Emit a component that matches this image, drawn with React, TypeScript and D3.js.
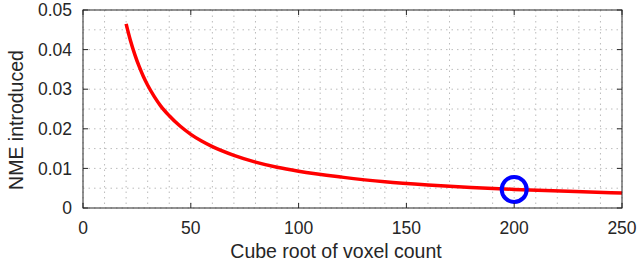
import * as d3 from "d3";

// curve
const voxelRoot = [20, 22, 24, 26, 28, 30, 33, 36, 40, 45, 50, 55, 60, 70, 80, 90, 100, 120, 140, 160, 180, 200, 225, 250];
const nme = [0.0465, 0.0423, 0.0388, 0.0358, 0.0332, 0.031, 0.0282, 0.0258, 0.0233, 0.0207, 0.0186, 0.0169, 0.0155, 0.0133, 0.0116, 0.0103, 0.0093, 0.0078, 0.0066, 0.0058, 0.0052, 0.0047, 0.0042, 0.0038];
const marker = { x: 200, y: 0.0047 };

const xTicks = [0, 50, 100, 150, 200, 250];
const yTicks = [0, 0.01, 0.02, 0.03, 0.04, 0.05];
const xGrid = d3.range(0, 251, 10);
const yGrid = d3.range(0, 0.0501, 0.005);

const width = 642;
const height = 264;
const plot = { left: 83, right: 622, top: 10, bottom: 208 };
const font = "'Liberation Sans', Arial, sans-serif";

export default function App() {
  const x = d3.scaleLinear().domain([0, 250]).range([plot.left, plot.right]);
  const y = d3.scaleLinear().domain([0, 0.05]).range([plot.bottom, plot.top]);

  const pts: [number, number][] = voxelRoot.map((v, i) => [v, nme[i]]);
  const line = d3.line<[number, number]>()
    .x((d) => x(d[0]))
    .y((d) => y(d[1]))
    .curve(d3.curveMonotoneX);

  const axisColor = "#262626";
  const tickLen = 5;

  return (
    <svg
      width={width}
      height={height}
      viewBox={`0 0 ${width} ${height}`}
      style={{ position: "absolute", left: 0, top: 0, background: "#fff" }}
    >
      {/* dotted grid */}
      <g stroke="#bcbcbc" strokeWidth={1} strokeDasharray="1.5,4">
        {xGrid.map((v) => (
          <line key={"gx" + v} x1={x(v)} x2={x(v)} y1={plot.top} y2={plot.bottom} />
        ))}
        {yGrid.map((v) => (
          <line key={"gy" + v} x1={plot.left} x2={plot.right} y1={y(v)} y2={y(v)} />
        ))}
      </g>

      {/* curve and marker */}
      <path d={line(pts) ?? ""} fill="none" stroke="#ff0000" strokeWidth={3.5} />
      <circle cx={x(marker.x)} cy={y(marker.y)} r={12.5} fill="none" stroke="#0000ff" strokeWidth={4} />

      {/* box and ticks */}
      <rect
        x={plot.left}
        y={plot.top}
        width={plot.right - plot.left}
        height={plot.bottom - plot.top}
        fill="none"
        stroke={axisColor}
        strokeWidth={1}
      />
      <g stroke={axisColor} strokeWidth={1}>
        {xTicks.map((v) => (
          <g key={"tx" + v}>
            <line x1={x(v)} x2={x(v)} y1={plot.bottom} y2={plot.bottom - tickLen} />
            <line x1={x(v)} x2={x(v)} y1={plot.top} y2={plot.top + tickLen} />
          </g>
        ))}
        {yTicks.map((v) => (
          <g key={"ty" + v}>
            <line x1={plot.left} x2={plot.left + tickLen} y1={y(v)} y2={y(v)} />
            <line x1={plot.right} x2={plot.right - tickLen} y1={y(v)} y2={y(v)} />
          </g>
        ))}
      </g>

      {/* tick labels */}
      <g fontFamily={font} fontSize={17.5} fill="#262626">
        {xTicks.map((v) => (
          <text key={"lx" + v} x={x(v)} y={234} textAnchor="middle">
            {v}
          </text>
        ))}
        {yTicks.map((v) => (
          <text key={"ly" + v} x={72} y={y(v)} dy="0.35em" textAnchor="end">
            {v === 0 ? "0" : v.toFixed(2)}
          </text>
        ))}
      </g>

      {/* axis titles */}
      <text
        x={336}
        y={258}
        textAnchor="middle"
        fontFamily={font}
        fontSize={19.5}
        fill="#262626"
      >
        Cube root of voxel count
      </text>
      <text
        transform={`translate(23, 120) rotate(-90)`}
        textAnchor="middle"
        fontFamily={font}
        fontSize={19.5}
        fill="#262626"
      >
        NME introduced
      </text>
    </svg>
  );
}
